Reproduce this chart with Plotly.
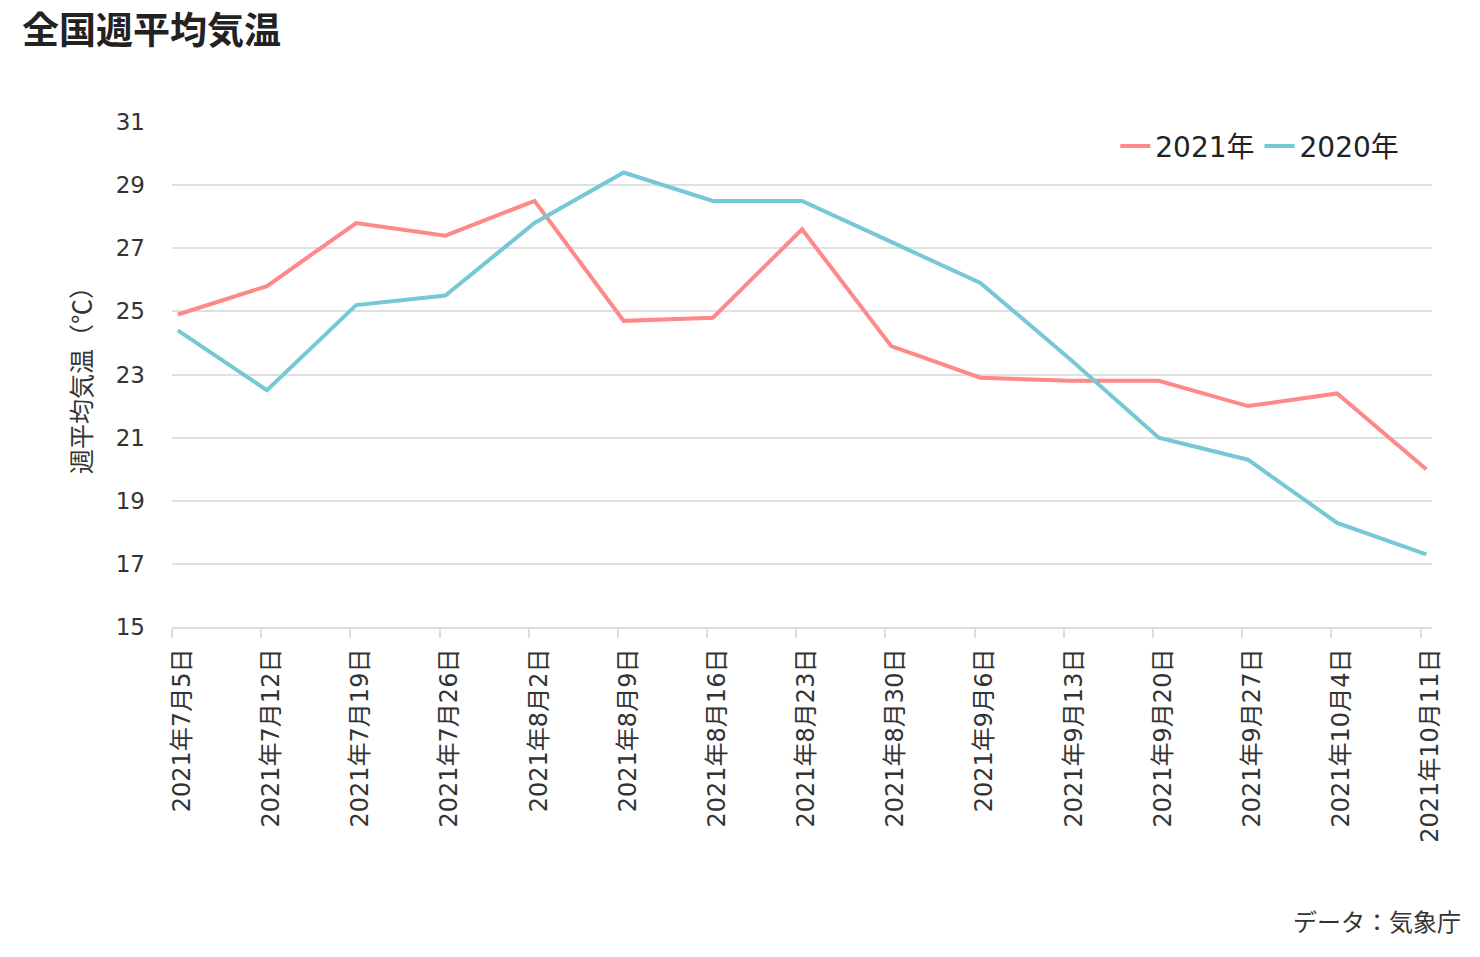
import plotly.graph_objects as go

dates = ["2021年7月5日", "2021年7月12日", "2021年7月19日", "2021年7月26日", "2021年8月2日",
         "2021年8月9日", "2021年8月16日", "2021年8月23日", "2021年8月30日", "2021年9月6日",
         "2021年9月13日", "2021年9月20日", "2021年9月27日", "2021年10月4日", "2021年10月11日"]
temp_2021 = [24.9, 25.8, 27.8, 27.4, 28.5, 24.7, 24.8, 27.6, 23.9, 22.9, 22.8, 22.8, 22.0, 22.4, 20.0]
temp_2020 = [24.4, 22.5, 25.2, 25.5, 27.8, 29.4, 28.5, 28.5, 27.2, 25.9, 23.5, 21.0, 20.3, 18.3, 17.3]
y_ticks = [15, 17, 19, 21, 23, 25, 27, 29, 31]

FONT = "DejaVu Sans, Noto Sans CJK JP, sans-serif"
CJK = "Noto Sans CJK JP, sans-serif"
idx = list(range(len(dates)))
off = 0.065

fig = go.Figure()
fig.add_trace(go.Scatter(x=idx, y=temp_2021, mode="lines", name="2021年",
                         line=dict(color="#FF8888", width=4), hoverinfo="skip"))
fig.add_trace(go.Scatter(x=idx, y=temp_2020, mode="lines", name="2020年",
                         line=dict(color="#76C8D6", width=4), hoverinfo="skip"))

fig.update_layout(
    width=1480, height=957,
    margin=dict(l=172, r=48, t=122, b=330),
    paper_bgcolor="white", plot_bgcolor="white",
    font=dict(family=FONT, color="#333333", size=22),
    title=dict(text="<b>全国週平均気温</b>", font=dict(family=CJK, size=37, color="#222222"),
               x=22 / 1480, xref="container", xanchor="left",
               y=1 - 31 / 957, yref="container", yanchor="middle"),
    legend=dict(orientation="h", x=0.978, xanchor="right", y=0.952, yanchor="middle",
                font=dict(family=FONT, size=28, color="#222222"), bgcolor="rgba(0,0,0,0)"),
    showlegend=True,
)

fig.update_xaxes(
    range=[-off, len(dates) - 1 + off - 0.001],
    tickmode="array", tickvals=[i - off for i in idx], ticktext=dates,
    tickangle=-90, tickfont=dict(family=FONT, size=24, color="#333333"),
    ticks="outside", ticklen=9, tickwidth=2, tickcolor="#dddddd",
    ticklabelshift=10, ticklabelstandoff=1,
    showline=True, linecolor="#dddddd", linewidth=2,
    showgrid=False, zeroline=False,
)
fig.update_yaxes(
    range=[15, 31], tickmode="array", tickvals=y_ticks,
    tickfont=dict(family=FONT, size=23, color="#333333"),
    showgrid=True, gridcolor="#e0e0e0", gridwidth=2,
    ticks="", ticklabelstandoff=26,
    showline=False, zeroline=False,
)

fig.add_annotation(text="週平均気温（℃）", textangle=-90, showarrow=False,
                   xref="paper", yref="paper", x=(80 - 172) / 1260, y=(627 - 374) / 505,
                   xanchor="center", yanchor="middle",
                   font=dict(family=CJK, size=25, color="#333333"))
fig.add_annotation(text="データ：気象庁", showarrow=False,
                   xref="paper", yref="paper", x=(1463 - 172) / 1260, y=(627 - 920) / 505,
                   xanchor="right", yanchor="middle",
                   font=dict(family=CJK, size=24, color="#333333"))

fig.write_html("out.html")
